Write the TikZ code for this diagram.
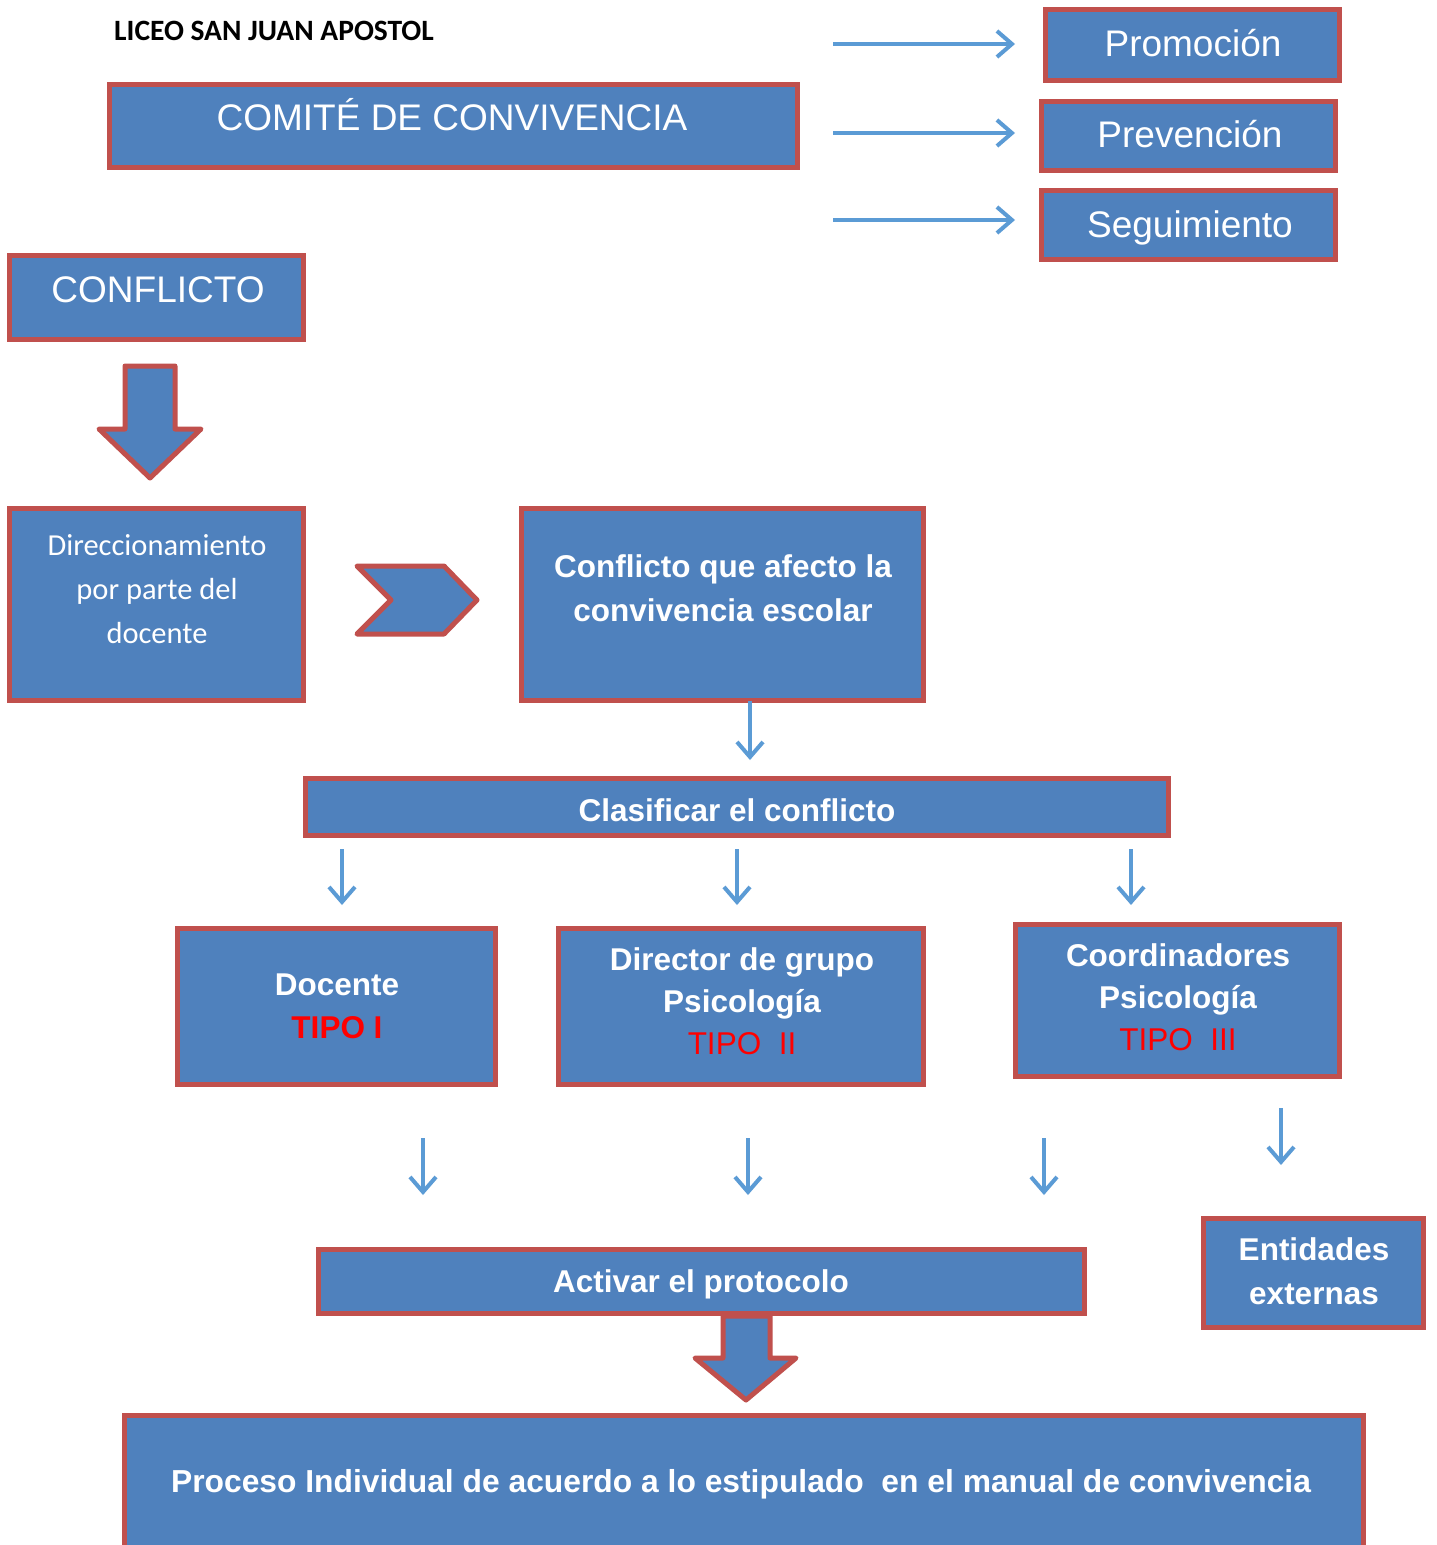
\documentclass[tikz,border=0pt]{standalone}
\usepackage{fontspec}
\setmainfont{Liberation Sans}
\newfontfamily\carl{Carlito}
\usetikzlibrary{arrows.meta}
\definecolor{bblue}{HTML}{4F81BD}
\definecolor{bred}{HTML}{C0504D}
\definecolor{lblue}{HTML}{5B9BD5}
\definecolor{tred}{HTML}{FF0000}
\tikzset{
  box/.style={draw=bred, fill=bblue, line width=5pt, inner sep=0pt, outer sep=0pt},
  ttl/.style={text=white, font=\fontsize{37}{44}\selectfont, anchor=base, inner sep=0pt},
  bt/.style={text=white, font=\bfseries\fontsize{31.5}{38}\selectfont, anchor=base, inner sep=0pt},
  rt/.style={text=tred, font=\fontsize{31.5}{38}\selectfont, anchor=base, inner sep=0pt},
  lt/.style={text=white, font=\carl\fontsize{30.5}{44}\selectfont, anchor=base, inner sep=0pt},
  thinarr/.style={draw=lblue, line width=4pt, -{Straight Barb[length=15pt,width=26pt]}},
  bigarrow/.style={draw=bred, fill=bblue, line width=5pt, line join=round},
}
\begin{document}
\begin{tikzpicture}[x=1pt,y=-1pt]
\clip (0,0) rectangle (1436,1545);
\fill[white] (0,0) rectangle (1436,1545);

% title
\node[anchor=base, inner sep=0pt, font=\carl\bfseries\fontsize{29.5}{34}\selectfont] (title) at (274,40) {LICEO SAN JUAN APOSTOL};

% top boxes
\node[box, minimum width=688pt, minimum height=83pt] (comite) at (453.5,126) {};
\node[ttl] (comiteT) at (452,130) {COMITÉ DE CONVIVENCIA};

\node[box, minimum width=294pt, minimum height=71pt] (promo) at (1192.5,45) {};
\node[ttl] (promoT) at (1193,56) {Promoción};
\node[box, minimum width=294pt, minimum height=69pt] (prev) at (1188.5,136) {};
\node[ttl] (prevT) at (1190,147) {Prevención};
\node[box, minimum width=294pt, minimum height=69pt] (segu) at (1188.5,225) {};
\node[ttl] (seguT) at (1190,237) {Seguimiento};

\coordinate (h1s) at (833,44);  \coordinate (h1e) at (1015,44);
\coordinate (h2s) at (833,133); \coordinate (h2e) at (1015,133);
\coordinate (h3s) at (833,220); \coordinate (h3e) at (1015,220);
\draw[thinarr] (h1s) -- (h1e);
\draw[thinarr] (h2s) -- (h2e);
\draw[thinarr] (h3s) -- (h3e);

% conflicto
\node[box, minimum width=294pt, minimum height=84pt] (confl) at (156.5,297.5) {};
\node[ttl] (conflT) at (158,302) {CONFLICTO};

\draw[bigarrow] (125,366) -- (175,366) -- (175,429) -- (201,429) -- (150,478) -- (99,429) -- (125,429) -- cycle;

% direccionamiento
\node[box, minimum width=294pt, minimum height=192pt] (direc) at (156.5,604.5) {};
\node[lt] (direcT1) at (157,555) {Direccionamiento};
\node[lt] (direcT2) at (157,599) {por parte del};
\node[lt] (direcT3) at (157,643) {docente};

\draw[bigarrow] (357,566) -- (444,566) -- (477,600) -- (444,634) -- (357,634) -- (391,600) -- cycle;

\node[box, minimum width=402pt, minimum height=192pt] (afecta) at (722.5,604.5) {};
\node[bt] (afectaT1) at (723,577) {Conflicto que afecto la};
\node[bt] (afectaT2) at (723,621) {convivencia escolar};

% clasificar
\node[box, minimum width=863pt, minimum height=57pt] (clasif) at (737,807) {};
\node[bt] (clasifT) at (737,821) {Clasificar el conflicto};
\coordinate (c1) at (750,760);
\draw[thinarr] (afecta.south -| c1) -- (c1);

\coordinate (d1s) at (342,849); \coordinate (d1e) at (342,905);
\coordinate (d2s) at (737,849); \coordinate (d2e) at (737,905);
\coordinate (d3s) at (1131,849); \coordinate (d3e) at (1131,905);
\draw[thinarr] (d1s) -- (d1e);
\draw[thinarr] (d2s) -- (d2e);
\draw[thinarr] (d3s) -- (d3e);

% tipo boxes
\node[box, minimum width=318pt, minimum height=156pt] (docente) at (336.5,1006.5) {};
\node[bt] (docenteT1) at (337,995) {Docente};
\node[bt, text=tred] (docenteT2) at (337,1038) {TIPO I};

\node[box, minimum width=365pt, minimum height=156pt] (director) at (741,1006.5) {};
\node[bt] (directorT1) at (742,970) {Director de grupo};
\node[bt] (directorT2) at (742,1012) {Psicología};
\node[rt] (directorT3) at (742,1054) {TIPO\ \ II};

\node[box, minimum width=324pt, minimum height=152pt] (coord) at (1177.5,1000.5) {};
\node[bt] (coordT1) at (1178,966) {Coordinadores};
\node[bt] (coordT2) at (1178,1008) {Psicología};
\node[rt] (coordT3) at (1178,1050) {TIPO\ \ III};

\coordinate (e1s) at (423,1138); \coordinate (e1e) at (423,1195);
\coordinate (e2s) at (748,1138); \coordinate (e2e) at (748,1195);
\coordinate (e3s) at (1044,1138); \coordinate (e3e) at (1044,1195);
\coordinate (e4s) at (1281,1108); \coordinate (e4e) at (1281,1165);
\draw[thinarr] (e1s) -- (e1e);
\draw[thinarr] (e2s) -- (e2e);
\draw[thinarr] (e3s) -- (e3e);
\draw[thinarr] (e4s) -- (e4e);

\node[box, minimum width=220pt, minimum height=109pt] (entid) at (1313.5,1273) {};
\node[bt] (entidT1) at (1314,1260) {Entidades};
\node[bt] (entidT2) at (1314,1304) {externas};

\node[box, minimum width=766pt, minimum height=64pt] (activar) at (701.5,1281.5) {};
\node[bt] (activarT) at (701,1292) {Activar el protocolo};

\draw[bigarrow] (723,1316) -- (770,1316) -- (770,1358) -- (796,1358) -- (746,1400) -- (695,1358) -- (723,1358) -- cycle;

\node[box, minimum width=1239pt, minimum height=182pt] (proceso) at (744,1506.5) {};
\node[bt, font=\bfseries\fontsize{31.8}{38}\selectfont] (procesoT) at (741,1492) {Proceso Individual de acuerdo a lo estipulado\ \ en el manual de convivencia};
\end{tikzpicture}
\end{document}
